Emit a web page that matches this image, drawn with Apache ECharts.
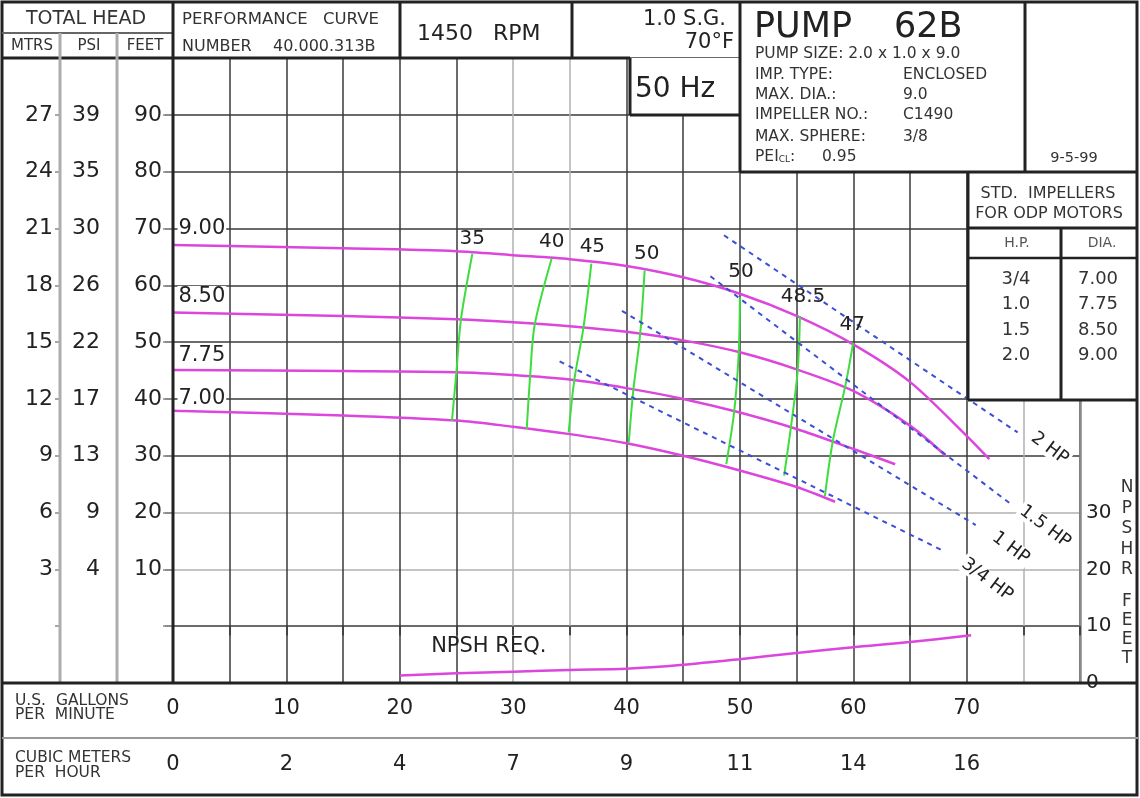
<!DOCTYPE html>
<html>
<head>
<meta charset="utf-8">
<script src="https://cdn.jsdelivr.net/npm/echarts@6.0.0/dist/echarts.min.js"></script>
<style>
html,body{margin:0;padding:0;background:#fff;}
#chart{width:1140px;height:798px;}
</style>
</head>
<body>
<div id="chart"></div>
<script>
// ---------------- data ----------------
const gpmLabelTicks = [0, 10, 20, 30, 40, 50, 60, 70];
const cubicMeterLabels = ['0', '2', '4', '7', '9', '11', '14', '16'];
const feetTicks = [10, 20, 30, 40, 50, 60, 70, 80, 90];
const psiLabels = ['4', '9', '13', '17', '22', '26', '30', '35', '39'];
const mtrsLabels = ['3', '6', '9', '12', '15', '18', '21', '24', '27'];
const npshrTicks = [0, 10, 20, 30];

const impellerNames = ['9.00', '8.50', '7.75', '7.00'];
const head900 = [[0,67.1],[15,66.5],[25,66.0],[30,65.3],[35,64.6],[40,63.4],[45,61.4],[50,58.5],[55,54.6],[60,49.6],[65,43.0],[70,33.5],[72,29.4]];
const head850 = [[0,55.2],[15,54.6],[25,54.0],[30,53.5],[35,52.8],[40,51.8],[45,50.3],[50,48.2],[55,45.2],[60,41.4],[65,35.3],[68.2,29.9]];
const head775 = [[0,45.1],[15,44.9],[25,44.7],[30,44.2],[35,43.4],[40,41.9],[45,40.0],[50,37.6],[55,34.7],[60,31.2],[63.7,28.5]];
const head700 = [[0,37.9],[15,37.1],[25,36.2],[30,35.1],[35,33.8],[40,32.2],[45,30.0],[50,27.4],[55,24.5],[58.4,21.9]];

const effNames = ['35', '40', '45', '50', '50', '48.5', '47'];
const eff35  = [[26.4,65.5],[25.4,54.0],[25.0,44.8],[24.6,36.1]];
const eff40  = [[33.4,64.7],[31.9,53.0],[31.5,44.0],[31.2,34.7]];
const eff45  = [[36.9,63.8],[36.2,52.5],[35.4,43.4],[34.9,34.1]];
const eff50a = [[41.6,62.6],[41.2,51.3],[40.6,41.5],[40.2,32.3]];
const eff50b = [[50.0,57.9],[49.9,48.2],[49.5,37.8],[48.8,28.5]];
const eff485 = [[55.3,54.6],[55.1,45.0],[54.5,35.0],[53.9,26.5]];
const eff47  = [[60.0,49.9],[59.3,42.3],[58.2,32.6],[57.5,22.9]];

const hpNames = ['2 HP', '1.5 HP', '1 HP', '3/4 HP'];
const hp2  = [[48.6,68.8],[74.5,34.1]];
const hp15 = [[47.4,61.6],[74.1,21.2]];
const hp1  = [[39.6,55.5],[70.8,17.8]];
const hp34 = [[34.1,46.6],[68.1,13.1]];

const npshReq = [[20,1.3],[25,1.7],[30,2.0],[35,2.3],[40,2.5],[45,3.2],[50,4.2],[55,5.3],[60,6.3],[65,7.2],[70.4,8.4]];

const stdHP  = ['3/4', '1.0', '1.5', '2.0'];
const stdDia = ['7.00', '7.75', '8.50', '9.00'];
const pumpInfoKeys = ['IMP. TYPE:', 'MAX. DIA.:', 'IMPELLER NO.:', 'MAX. SPHERE:'];
const pumpInfoVals = ['ENCLOSED', '9.0', 'C1490', '3/8'];

// ---------------- styles ----------------
const F = '"DejaVu Sans", Verdana, sans-serif';
const INK = '#222';
const MAG = '#dc46dc';
const GRN = '#3fdc3f';
const BLU = '#3a4fd4';
const greyGpmLines = [30, 35, 75];
const greyFeetLines = [10, 20];
const gpmLineColors = [];
for (let v = 0; v <= 80; v += 5) gpmLineColors.push(greyGpmLines.includes(v) ? '#b0b0b0' : '#3a3a3a');
const feetLineColors = [];
for (let v = -10; v <= 100; v += 10) feetLineColors.push(greyFeetLines.includes(v) ? '#b0b0b0' : '#3a3a3a');

const diaLabelOffsets = [[0,-16.5],[0,-16],[0,-14],[0,-12]];
const effLabelOffsets = [[0,-15],[0,-17],[1,-17],[2,-17],[1,-25],[3,-19],[-1,-18]];
const HP_ROT = -37;
const hpScreenOffsets = [[32,16],[32,21],[35,23],[42,28]];
// label offsets act in the rotated frame: convert screen offsets
function toLocal(o) {
  const a = -HP_ROT * Math.PI / 180, c = Math.cos(a), s = Math.sin(a);
  return [c * o[0] + s * o[1], -s * o[0] + c * o[1]];
}

const heads = [head900, head850, head775, head700];
const effs = [eff35, eff40, eff45, eff50a, eff50b, eff485, eff47];
const hps = [hp2, hp15, hp1, hp34];

function lineSeries(data, color, width, extra) {
  return Object.assign({
    type: 'line', data: data, xAxisIndex: 0, yAxisIndex: 0,
    showSymbol: false, symbol: 'none', silent: true, z: 3,
    lineStyle: { color: color, width: width }, smooth: 0.3
  }, extra || {});
}
function labelSeries(items, yAxisIndex, labelStyle) {
  return {
    type: 'scatter', xAxisIndex: 0, yAxisIndex: yAxisIndex, symbolSize: 1, silent: true, z: 6,
    itemStyle: { color: 'rgba(0,0,0,0)', opacity: 1 },
    label: Object.assign({ show: true, formatter: '{b}', color: INK, opacity: 1, textBorderWidth: 0, fontFamily: F }, labelStyle),
    data: items
  };
}

const series = [];
heads.forEach(h => series.push(lineSeries(h, MAG, 2.5, { smooth: 0.3 })));
effs.forEach(e => series.push(lineSeries(e, GRN, 2, { smooth: 0.3 })));
hps.forEach(h => series.push(lineSeries(h, BLU, 2, { smooth: false, lineStyle: { color: BLU, width: 2, type: [5, 5] } })));
series.push(lineSeries(npshReq, MAG, 2.5, { yAxisIndex: 3, smooth: 0.3 }));

series.push(labelSeries(impellerNames.map((n, i) => ({
  name: n, value: heads[i][0], label: { offset: diaLabelOffsets[i] }
})), 0, { position: 'right', distance: 4, fontSize: 21, backgroundColor: '#fff', padding: [0, 1] }));

series.push(labelSeries(effNames.map((n, i) => ({
  name: n, value: effs[i][0], label: { offset: effLabelOffsets[i] }
})), 0, { position: 'inside', fontSize: 20 }));

series.push(labelSeries(hpNames.map((n, i) => ({
  name: n, value: hps[i][1], label: { offset: toLocal(hpScreenOffsets[i]) }
})), 0, { position: 'inside', fontSize: 18, rotate: HP_ROT, backgroundColor: '#fff', padding: [0, 2] }));

series.push(labelSeries([{ name: 'NPSH REQ.', value: npshReq[0], label: { offset: [89, -29] } }], 3,
  { position: 'inside', fontSize: 21 }));

// ---------------- frame / header graphics ----------------
const G = [];
function ln(x1, y1, x2, y2, color, w) {
  G.push({ type: 'line', silent: true, z: 60, shape: { x1, y1, x2, y2 }, style: { stroke: color || INK, lineWidth: w || 3 } });
}
function tx(x, y, text, size, align, extra) {
  G.push({ type: 'text', silent: true, z: 70, x: x, y: y,
    style: Object.assign({ text: text, fontSize: size, fontFamily: F, fill: INK, align: align || 'left', verticalAlign: 'middle' }, extra || {}) });
}
function box(x, y, w, h) {
  G.push({ type: 'rect', silent: true, z: 50, shape: { x, y, width: w, height: h }, style: { fill: '#fff' } });
}
box(630, 58, 110, 57);
box(740, 2, 398, 170);
box(968, 172, 170, 228);

G.push({ type: 'rect', silent: true, z: 60, shape: { x: 2, y: 2, width: 1135, height: 793 }, style: { fill: null, stroke: INK, lineWidth: 3 } });
ln(2, 33, 173, 33, '#666', 2);
ln(2, 58, 630, 58, INK, 3);
ln(173, 2, 173, 683, INK, 3);
ln(60, 33, 60, 683, '#adadad', 3);
ln(117, 33, 117, 683, '#adadad', 3);
ln(400, 2, 400, 58);
ln(572, 2, 572, 58);
ln(630, 58, 630, 115);
ln(630, 115, 740, 115);
ln(740, 2, 740, 172);
ln(1025, 2, 1025, 172);
ln(740, 172, 1138, 172);
ln(968, 172, 968, 400);
ln(968, 228, 1138, 228);
ln(968, 258, 1138, 258, INK, 2.5);
ln(1061, 228, 1061, 400);
ln(968, 400, 1138, 400);
ln(2, 683, 1138, 683, INK, 3);
ln(2, 738, 1138, 738, '#999', 2);

tx(86, 19.5, 'TOTAL HEAD', 19, 'center', { fill: '#333' });
tx(32, 46.5, 'MTRS', 15, 'center', { fill: '#333' });
tx(89, 46.5, 'PSI', 15, 'center', { fill: '#333' });
tx(145, 46.5, 'FEET', 15, 'center', { fill: '#333' });
tx(182, 20, 'PERFORMANCE', 16.5, 'left', { fill: '#333' });
tx(323, 20, 'CURVE', 16.5, 'left', { fill: '#333' });
tx(182, 46.5, 'NUMBER', 16, 'left', { fill: '#333' });
tx(273, 46.5, '40.000.313B', 16, 'left', { fill: '#333' });
tx(417, 34, '1450', 22);
tx(493, 34, 'RPM', 22);
tx(726, 20, '1.0 S.G.', 21, 'right');
tx(734, 43, '70\u00B0F', 21, 'right');
tx(635, 90, '50 Hz', 28);
tx(754, 27.5, 'PUMP', 35);
tx(894, 27.5, '62B', 35);
tx(755, 53.5, 'PUMP SIZE: 2.0 x 1.0 x 9.0', 15.5, 'left', { fill: '#333' });
pumpInfoKeys.forEach((k, i) => {
  const y = [75, 95, 115, 136.5][i];
  tx(755, y, k, 15.5, 'left', { fill: '#333' });
  tx(903, y, pumpInfoVals[i], 15.5, 'left', { fill: '#333' });
});
G.push({ type: 'text', silent: true, z: 70, x: 755, y: 156.5,
  style: { text: '{a|PEI}{b|CL}{a|:}', fontFamily: F, fill: '#333', verticalAlign: 'middle',
    rich: { a: { fontSize: 15.5, fontFamily: F, fill: '#333' }, b: { fontSize: 9, fontFamily: F, fill: '#333', verticalAlign: 'bottom', padding: [6, 0, 0, 0] } } } });
tx(822, 156.5, '0.95', 15.5, 'left', { fill: '#333' });
tx(1074, 158, '9-5-99', 14.5, 'center', { fill: '#333' });

tx(1048, 193.5, 'STD.  IMPELLERS', 16, 'center', { fill: '#333' });
tx(1049, 213.5, 'FOR ODP MOTORS', 16, 'center', { fill: '#333' });
tx(1017, 243, 'H.P.', 14, 'center', { fill: '#555' });
tx(1102, 243, 'DIA.', 14, 'center', { fill: '#555' });
stdHP.forEach((h, i) => {
  tx(1016, 279.5 + 25.3 * i, h, 18, 'center', { fill: '#333' });
  tx(1098, 279.5 + 25.3 * i, stdDia[i], 18, 'center', { fill: '#333' });
});

tx(15, 701, 'U.S.  GALLONS', 15.5, 'left', { fill: '#333' });
tx(15, 714.5, 'PER  MINUTE', 15.5, 'left', { fill: '#333' });
tx(15, 758, 'CUBIC METERS', 15.5, 'left', { fill: '#333' });
tx(15, 772.5, 'PER  HOUR', 15.5, 'left', { fill: '#333' });

'NPSHR'.split('').forEach((c, i) => tx(1127, 488 + 20.5 * i, c, 17, 'center', { fill: '#333' }));
'FEET'.split('').forEach((c, i) => tx(1127, 602 + 18.7 * i, c, 17, 'center', { fill: '#333' }));

// ---------------- chart ----------------
const axisLabelBase = { fontFamily: F, color: INK };
const option = {
  backgroundColor: '#fff',
  animation: false,
  grid: { left: 173, right: 60, top: 58, bottom: 115, containLabel: false, outerBoundsMode: 'none' },
  xAxis: [
    { type: 'value', min: 0, max: 80, interval: 5, position: 'bottom',
      axisLine: { show: false },
      axisTick: { show: true, length: 9, lineStyle: { color: '#333', width: 1.5 } },
      axisLabel: Object.assign({ margin: 26, verticalAlign: 'middle', fontSize: 21, showMinLabel: true, showMaxLabel: true,
        formatter: v => gpmLabelTicks.includes(v) ? String(v) : '' }, axisLabelBase),
      splitLine: { show: true, showMinLine: true, showMaxLine: true, lineStyle: { color: gpmLineColors, width: 1.5 } } },
    { type: 'value', min: 0, max: 80, interval: 5, position: 'bottom', offset: 55,
      axisLine: { show: false },
      axisTick: { show: true, length: 9, lineStyle: { color: '#444', width: 1.5 } },
      axisLabel: Object.assign({ margin: 27, verticalAlign: 'middle', fontSize: 21, showMinLabel: true, showMaxLabel: true,
        formatter: v => { const i = gpmLabelTicks.indexOf(v); return i < 0 ? '' : cubicMeterLabels[i]; } }, axisLabelBase),
      splitLine: { show: false } }
  ],
  yAxis: [
    { type: 'value', min: -10, max: 100, interval: 10, position: 'left',
      axisLine: { show: false },
      axisTick: { show: true, length: 8, lineStyle: { color: '#777', width: 1.5 } },
      axisLabel: Object.assign({ margin: 11, fontSize: 22, formatter: v => feetTicks.includes(v) ? String(v) : '' }, axisLabelBase),
      splitLine: { show: true, showMinLine: true, showMaxLine: true, lineStyle: { color: feetLineColors, width: 1.5 } } },
    { type: 'value', min: -10, max: 100, interval: 10, position: 'left', offset: 56,
      axisLine: { show: false },
      axisTick: { show: true, length: 10, lineStyle: { color: '#888', width: 1.5 } },
      axisLabel: Object.assign({ margin: 17, fontSize: 22, formatter: v => { const i = feetTicks.indexOf(v); return i < 0 ? '' : psiLabels[i]; } }, axisLabelBase),
      splitLine: { show: false } },
    { type: 'value', min: -10, max: 100, interval: 10, position: 'left', offset: 113,
      axisLine: { show: false },
      axisTick: { show: true, length: 5, lineStyle: { color: '#888', width: 1.5 } },
      axisLabel: Object.assign({ margin: 7, fontSize: 22, formatter: v => { const i = feetTicks.indexOf(v); return i < 0 ? '' : mtrsLabels[i]; } }, axisLabelBase),
      splitLine: { show: false } },
    { type: 'value', min: 0, max: 110, interval: 10, position: 'right',
      axisLine: { show: true, lineStyle: { color: '#888', width: 2.5 } },
      axisTick: { show: false },
      axisLabel: Object.assign({ margin: 6, fontSize: 20, formatter: v => npshrTicks.includes(v) ? String(v) : '' }, axisLabelBase),
      splitLine: { show: false } }
  ],
  series: series,
  graphic: { elements: G }
};
const chart = echarts.init(document.getElementById('chart'), null, { renderer: 'canvas', width: 1140, height: 798 });
chart.setOption(option);
</script>
</body>
</html>
